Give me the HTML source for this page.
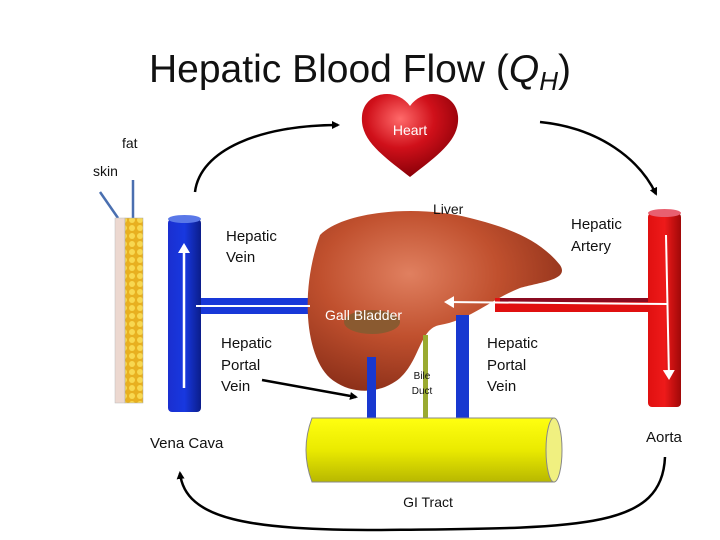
<!DOCTYPE html>
<html><head><style>body{margin:0;background:#fff}svg{display:block}text{font-family:"Liberation Sans","DejaVu Sans",sans-serif}</style></head>
<body>
<svg width="720" height="540" viewBox="0 0 720 540" xmlns="http://www.w3.org/2000/svg">
<defs>
<marker id="ah" markerWidth="8" markerHeight="8" refX="6" refY="4" orient="auto" markerUnits="userSpaceOnUse"><path d="M0,0 L8,4 L0,8 z" fill="#000"/></marker>
<marker id="wh" markerWidth="12" markerHeight="12" refX="8" refY="6" orient="auto" markerUnits="userSpaceOnUse"><path d="M0,0 L10,6 L0,12 z" fill="#fff"/></marker>
<linearGradient id="blue" x1="0" x2="1"><stop offset="0" stop-color="#1a2fd0"/><stop offset="0.5" stop-color="#1838e0"/><stop offset="1" stop-color="#0b1d8a"/></linearGradient>
<linearGradient id="red" x1="0" x2="1"><stop offset="0" stop-color="#e01010"/><stop offset="0.5" stop-color="#ee1a1a"/><stop offset="1" stop-color="#a00808"/></linearGradient>
<linearGradient id="yel" x1="0" y1="0" x2="0" y2="1"><stop offset="0" stop-color="#ffff10"/><stop offset="0.5" stop-color="#eaea00"/><stop offset="1" stop-color="#b8b800"/></linearGradient>
<radialGradient id="liv" cx="0.4" cy="0.35" r="0.7"><stop offset="0" stop-color="#e08060"/><stop offset="0.5" stop-color="#c0502e"/><stop offset="1" stop-color="#8a2e18"/></radialGradient>
<radialGradient id="hrt" cx="0.4" cy="0.3" r="0.7"><stop offset="0" stop-color="#ff6a6a"/><stop offset="0.5" stop-color="#d0101a"/><stop offset="1" stop-color="#8a0008"/></radialGradient>
<pattern id="fat" width="8" height="8" patternUnits="userSpaceOnUse"><rect width="8" height="8" fill="#e8b020"/><circle cx="4" cy="4" r="3" fill="#f8d850"/></pattern>
</defs>
<text x="360" y="82" font-size="39" text-anchor="middle" fill="#111">Hepatic Blood Flow (<tspan font-style="italic">Q</tspan><tspan font-style="italic" font-size="26" dy="8">H</tspan><tspan dy="-8">)</tspan></text>
<!-- heart -->
<path d="M410,177 C382,155 360,140 362,116 C364,92 396,86 410,106 C424,86 456,92 458,116 C460,140 438,155 410,177 Z" fill="url(#hrt)"/>
<text x="410" y="135" font-size="14" fill="#fff" text-anchor="middle">Heart</text>
<text x="122" y="148" font-size="14" fill="#111">fat</text>
<text x="93" y="176" font-size="14" fill="#111">skin</text>
<line x1="100" y1="192" x2="118" y2="218" stroke="#4a6fb0" stroke-width="2.5"/>
<line x1="133" y1="180" x2="133" y2="218" stroke="#4a6fb0" stroke-width="2.5"/>
<rect x="115" y="218" width="10" height="185" fill="#ecd8d0" stroke="#bbb" stroke-width="0.5"/>
<rect x="125" y="218" width="18" height="185" fill="url(#fat)" stroke="#aaa" stroke-width="0.5"/>
<!-- arrows -->
<path d="M195,192 C200,150 260,125 338,125" fill="none" stroke="#000" stroke-width="2.5" marker-end="url(#ah)"/>
<path d="M540,122 C600,128 640,160 656,194" fill="none" stroke="#000" stroke-width="2.5" marker-end="url(#ah)"/>
<path d="M665,457 C662,530 580,528 380,530 C250,530 185,520 180,473" fill="none" stroke="#000" stroke-width="2.5" marker-end="url(#ah)"/>
<path d="M262,380 L356,397" fill="none" stroke="#000" stroke-width="2.5" marker-end="url(#ah)"/>
<!-- vena cava -->
<rect x="200" y="298" width="112" height="16" fill="#1838d8"/>
<rect x="168" y="219" width="33" height="193" rx="4" fill="url(#blue)"/>
<ellipse cx="184.5" cy="219" rx="16.5" ry="4" fill="#5a78e8"/>
<!-- liver -->
<path d="M320,235 C345,210 420,205 470,218 C510,228 540,240 560,265 C570,280 540,282 520,288 C490,300 470,320 440,325 C420,328 420,360 400,378 C380,395 350,395 330,378 C305,355 300,290 320,235 Z" fill="url(#liv)"/>
<ellipse cx="372" cy="322" rx="28" ry="12" fill="#8a5a30"/>
<text x="325" y="320" font-size="14" fill="#fff">Gall Bladder</text>
<text x="433" y="214" font-size="14" fill="#111">Liver</text>
<line x1="310" y1="306" x2="196" y2="306" stroke="#fff" stroke-width="2"/>
<line x1="184" y1="388" x2="184" y2="245" stroke="#fff" stroke-width="2.5" marker-end="url(#wh)"/>
<!-- artery -->
<rect x="495" y="298" width="155" height="14" fill="#e01010"/>
<rect x="500" y="298" width="150" height="4" fill="#8a0a20"/>
<rect x="648" y="213" width="33" height="194" rx="4" fill="url(#red)"/>
<ellipse cx="664.5" cy="213" rx="16.5" ry="4" fill="#e86070"/>
<line x1="668" y1="304" x2="446" y2="302" stroke="#fff" stroke-width="2" marker-end="url(#wh)"/>
<line x1="666" y1="235" x2="669" y2="378" stroke="#fff" stroke-width="2" marker-end="url(#wh)"/>
<!-- vessels down -->
<rect x="367" y="357" width="9" height="62" fill="#1838d0"/>
<rect x="456" y="315" width="13" height="104" fill="#1838d0"/>
<rect x="423" y="335" width="5" height="84" fill="#9aaa30"/>
<text x="422" y="379" font-size="10" fill="#111" text-anchor="middle">Bile</text>
<text x="422" y="394" font-size="10" fill="#111" text-anchor="middle">Duct</text>
<!-- GI -->
<path d="M312,418 L554,418 L554,482 L312,482 Q300,450 312,418 Z" fill="url(#yel)" stroke="#888" stroke-width="1"/>
<ellipse cx="554" cy="450" rx="8" ry="32" fill="#f0f080" stroke="#888" stroke-width="1"/>
<text x="428" y="507" font-size="14" fill="#111" text-anchor="middle">GI Tract</text>
<text x="226" y="241" font-size="15" fill="#111">Hepatic</text>
<text x="226" y="262" font-size="15" fill="#111">Vein</text>
<text x="571" y="229" font-size="15" fill="#111">Hepatic</text>
<text x="571" y="251" font-size="15" fill="#111">Artery</text>
<text x="221" y="348" font-size="15" fill="#111">Hepatic</text>
<text x="221" y="370" font-size="15" fill="#111">Portal</text>
<text x="221" y="391" font-size="15" fill="#111">Vein</text>
<text x="487" y="348" font-size="15" fill="#111">Hepatic</text>
<text x="487" y="370" font-size="15" fill="#111">Portal</text>
<text x="487" y="391" font-size="15" fill="#111">Vein</text>
<text x="150" y="448" font-size="15" fill="#111">Vena Cava</text>
<text x="646" y="442" font-size="15" fill="#111">Aorta</text>
</svg>
</body></html>
